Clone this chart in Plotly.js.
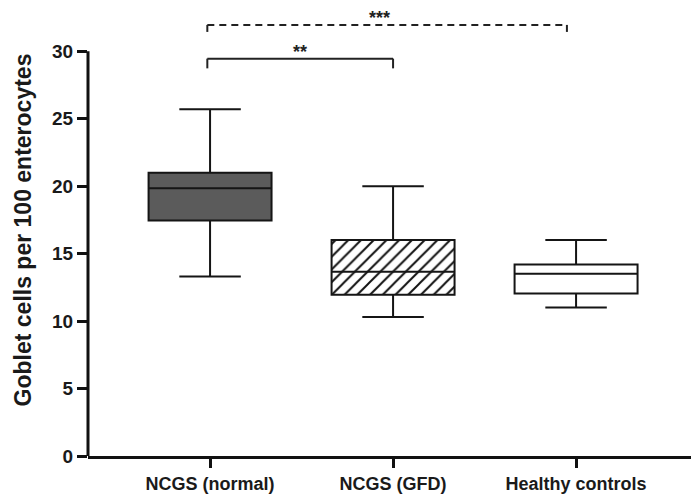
<!DOCTYPE html>
<html>
<head>
<meta charset="utf-8">
<script src="https://cdn.plot.ly/plotly-3.0.1.min.js"></script>
<style>html,body{margin:0;padding:0;background:#fff;}#chart{width:691px;height:495px;}</style>
</head>
<body>
<div id="chart"></div>
<script>
// ---- data ----
const categories = ["NCGS (normal)", "NCGS (GFD)", "Healthy controls"];
const lowerWhisker = [13.3, 10.3, 11.0];
const q1Values     = [17.45, 11.95, 12.05];
const medianValues = [19.85, 13.65, 13.5];
const q3Values     = [21.0, 16.0, 14.2];
const upperWhisker = [25.7, 20.0, 16.0];
const boxFills     = ["#5b5b5b", "rgba(0,0,0,0)", "#ffffff"];
const yTickValues  = [0, 5, 10, 15, 20, 25, 30];
// significance comparisons: [from index, to index], bracket level, label, dashed
const sigPairs  = [[0, 1], [0, 2]];
const sigLevels = [29.45, 31.95];
const sigLabels = ["**", "***"];
const sigDashed = [false, true];

const textColor = "#1a1a1a";
const fontFam = "'Liberation Sans', Arial, sans-serif";
const boxW = 0.672;

const traces = [];
// hatched fill for GFD box (pattern bar spanning q1..q3)
traces.push({
  type: "bar",
  x: [categories[1]],
  base: [q1Values[1]],
  y: [q3Values[1] - q1Values[1]],
  width: [boxW],
  marker: {color: "#ffffff", line: {width: 0},
           pattern: {shape: "/", size: 9, solidity: 0.22, fgcolor: "#111", bgcolor: "#ffffff"}},
  hoverinfo: "skip",
  showlegend: false
});
categories.forEach((c, i) => {
  traces.push({
    type: "box",
    x: [c],
    q1: [q1Values[i]],
    median: [medianValues[i]],
    q3: [q3Values[i]],
    lowerfence: [lowerWhisker[i]],
    upperfence: [upperWhisker[i]],
    width: boxW,
    whiskerwidth: 0.5,
    fillcolor: boxFills[i],
    line: {color: "#151515", width: 2},
    boxpoints: false,
    showlegend: false,
    hoverinfo: "skip"
  });
});

const shapes = [];
// y axis line from 0 to 30 only
shapes.push({type: "line", xref: "paper", yref: "y", x0: 0, x1: 0, y0: 0, y1: 30,
             line: {color: "#111", width: 3}});
const annotations = [];
sigPairs.forEach((p, k) => {
  const xa = p[0] - 0.015;
  const xb = p[1] - (sigDashed[k] ? 0.05 : 0);
  const y = sigLevels[k];
  const tip = sigDashed[k] ? 0.7 : 0.72;
  const ln = {color: "#222", width: 2, dash: sigDashed[k] ? "7px,5px" : "solid"};
  shapes.push({type: "line", xref: "x", yref: "y", x0: xa, x1: xb, y0: y, y1: y, line: ln});
  shapes.push({type: "line", xref: "x", yref: "y", x0: xa, x1: xa, y0: y, y1: y - tip, line: ln});
  shapes.push({type: "line", xref: "x", yref: "y", x0: xb, x1: xb, y0: y, y1: y - tip, line: ln});
  annotations.push({xref: "x", yref: "y", x: (xa + xb) / 2 - (sigDashed[k] ? 0.04 : 0), y: y + 0.5,
    text: sigLabels[k], showarrow: false,
    font: {family: fontFam, size: 18, weight: 700, color: "#222"}});
});

const layout = {
  width: 691, height: 495,
  margin: {l: 88, r: 0, t: 4, b: 39},
  paper_bgcolor: "#fff", plot_bgcolor: "#fff",
  boxmode: "overlay", barmode: "overlay",
  showlegend: false,
  xaxis: {
    type: "category",
    categoryarray: categories, categoryorder: "array",
    range: [-0.667, 2.628],
    showline: true, linecolor: "#111", linewidth: 3,
    ticks: "outside", ticklen: 9, tickwidth: 3, tickcolor: "#111",
    showgrid: false, zeroline: false,
    tickfont: {family: fontFam, size: 18, weight: 700, color: textColor}
  },
  yaxis: {
    range: [0, 33.5],
    tickvals: yTickValues,
    showline: false,
    ticks: "outside", ticklen: 10, tickwidth: 3, tickcolor: "#111",
    showgrid: false, zeroline: false,
    tickfont: {family: fontFam, size: 19, weight: 700, color: textColor},
    title: {text: "Goblet cells per 100 enterocytes", standoff: 14,
            font: {family: fontFam, size: 23, weight: 700, color: textColor}}
  },
  shapes: shapes,
  annotations: annotations
};

Plotly.newPlot("chart", traces, layout, {staticPlot: true, displayModeBar: false});
</script>
</body>
</html>
